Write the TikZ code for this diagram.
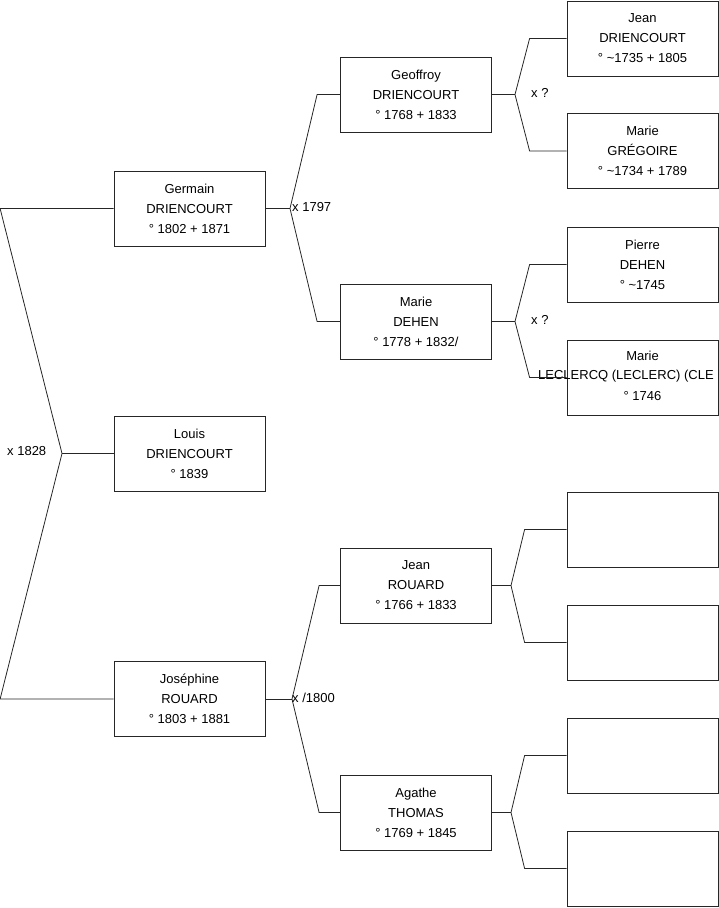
\documentclass[tikz,border=0pt]{standalone}
\usepackage{fontspec}
\setmainfont{Liberation Sans}
\usetikzlibrary{calc}
\begin{document}
\begin{tikzpicture}[x=1pt,y=-1pt,
  person/.style={draw=black!85,line width=0.8pt,minimum width=151pt,minimum height=75pt,inner sep=0pt,align=center,font=\fontsize{13}{20}\selectfont},
  lbl/.style={inner sep=0pt,anchor=west,font=\fontsize{13}{15}\selectfont},
  link/.style={draw=black!85,line width=0.8pt}]
\useasboundingbox (0,0) rectangle (719,908);
% generation 1
\node[person] (germain) at (189.5,208.5) {Germain\\DRIENCOURT\\° 1802 + 1871};
\node[person] (louis) at (189.5,453.5) {Louis\\DRIENCOURT\\° 1839};
\node[person] (josephine) at (189.5,699) {Joséphine\\ROUARD\\° 1803 + 1881};
% generation 2
\node[person] (geoffroy) at (416,94.5) {Geoffroy\\DRIENCOURT\\° 1768 + 1833};
\node[person] (mariedehen) at (416,321.5) {Marie\\DEHEN\\° 1778 + 1832/};
\node[person] (jeanrouard) at (416,585.5) {Jean\\ROUARD\\° 1766 + 1833};
\node[person] (agathe) at (416,812.5) {Agathe\\THOMAS\\° 1769 + 1845};
% generation 3
\node[person] (jeand) at (642.5,38.5) {Jean\\DRIENCOURT\\° \textasciitilde 1735 + 1805};
\node[person] (marieg) at (642.5,151) {Marie\\GRÉGOIRE\\° \textasciitilde 1734 + 1789};
\node[person] (pierre) at (642.5,264.5) {Pierre\\DEHEN\\° \textasciitilde 1745};
\node[person] (mariel) at (642.5,377.5) {};
\node[inner sep=0pt,font=\fontsize{13}{20}\selectfont] (ml1) at (642.5,356) {Marie};
\node[inner sep=0pt,anchor=west,font=\fontsize{13}{20}\selectfont] (ml2) at (538,376) {LECLERCQ (LECLERC) (CLE};
\node[inner sep=0pt,font=\fontsize{13}{20}\selectfont] (ml3) at (642.5,396) {° 1746};
\node[person] (e1) at (642.5,529.5) {};
\node[person] (e2) at (642.5,642.5) {};
\node[person] (e3) at (642.5,755.5) {};
\node[person] (e4) at (642.5,868.5) {};
% fork points
\coordinate (f0) at (62,453.5);
\coordinate (f1) at (290,208.5);
\coordinate (f2) at (292,699);
\coordinate (f3) at (515,94.5);
\coordinate (f4) at (515,321.5);
\coordinate (f5) at (511,585.5);
\coordinate (f6) at (511,812.5);
% connectors
\draw[link] (germain.west) -- ++(-113.5,0) -- (f0) -- ($(josephine.west)+(-113.5,0)$) -- (josephine.west);
\draw[link] (f0) -- (louis.west);
\draw[link] (germain.east) -- (f1);
\draw[link] (geoffroy.west) -- ++(-23,0) -- (f1) -- ($(mariedehen.west)+(-23,0)$) -- (mariedehen.west);
\draw[link] (josephine.east) -- (f2);
\draw[link] (jeanrouard.west) -- ++(-21,0) -- (f2) -- ($(agathe.west)+(-21,0)$) -- (agathe.west);
\draw[link] (geoffroy.east) -- (f3);
\draw[link] (jeand.west) -- ++(-37,0) -- (f3) -- ($(marieg.west)+(-37,0)$) -- (marieg.west);
\draw[link] (mariedehen.east) -- (f4);
\draw[link] (pierre.west) -- ++(-37,0) -- (f4) -- ($(mariel.west)+(-37,0)$) -- (mariel.west);
\draw[link] (jeanrouard.east) -- (f5);
\draw[link] (e1.west) -- ++(-42,0) -- (f5) -- ($(e2.west)+(-42,0)$) -- (e2.west);
\draw[link] (agathe.east) -- (f6);
\draw[link] (e3.west) -- ++(-42,0) -- (f6) -- ($(e4.west)+(-42,0)$) -- (e4.west);
% marriage labels
\node[lbl] (m0) at (7,451) {x 1828};
\node[lbl] (m1) at (292,207) {x 1797};
\node[lbl] (m2) at (292,697.5) {x /1800};
\node[lbl] (m3) at (531,92.5) {x ?};
\node[lbl] (m4) at (531,319.5) {x ?};
\end{tikzpicture}
\end{document}
